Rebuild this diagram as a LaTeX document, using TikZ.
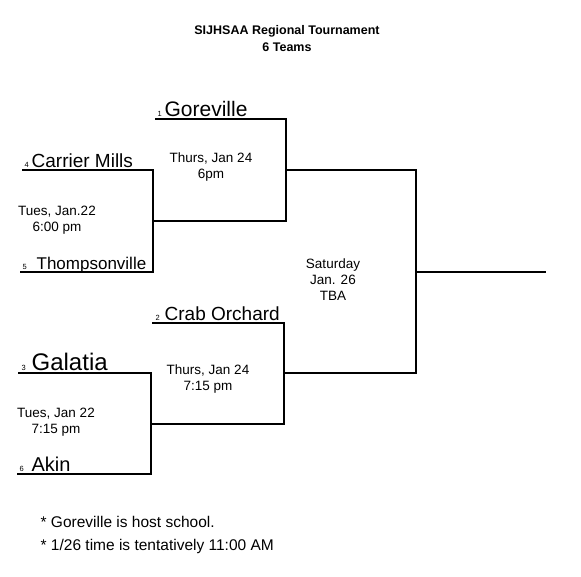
\documentclass[tikz,border=0pt]{standalone}
\usepackage{fontspec}
\setmainfont{Liberation Sans}
\begin{document}
\begin{tikzpicture}[x=1pt, y=-1pt, line width=1.3pt,
  team/.style={anchor=base west, inner sep=0pt, font=\fontsize{19}{19}\selectfont},
  seed/.style={anchor=base west, inner sep=0pt, font=\fontsize{7.5}{7.5}\selectfont},
  sched/.style={align=center, inner sep=0pt, font=\fontsize{13.5}{16}\selectfont},
  note/.style={anchor=base west, inner sep=0pt, font=\fontsize{15.5}{15.5}\selectfont}]
  \useasboundingbox (0,0) rectangle (581,576);
  % Title
  \node[align=center, font=\bfseries\fontsize{12.5}{17}\selectfont] (title) at (287,39)
    {SIJHSAA Regional Tournament\\6 Teams};
  % Bracket corners (pixel grid, y downwards)
  \coordinate (s4) at (22,170);  \coordinate (a4) at (153,170);
  \coordinate (s5) at (20,272);  \coordinate (a5) at (153,272);
  \coordinate (w45) at (153,221); \coordinate (b1) at (286,221);
  \coordinate (s1) at (155,119); \coordinate (a1) at (286,119);
  \coordinate (w1) at (286,170);  \coordinate (f1) at (416,170);
  \coordinate (s3) at (18,373);  \coordinate (a3) at (151,373);
  \coordinate (s6) at (17,474);  \coordinate (a6) at (151,474);
  \coordinate (w36) at (151,424); \coordinate (b2) at (284,424);
  \coordinate (s2) at (152,323); \coordinate (a2) at (284,323);
  \coordinate (w2) at (284,373);  \coordinate (f2) at (416,373);
  \coordinate (wf) at (416,272);  \coordinate (champ) at (546,272);
  % Round one
  \draw (s4) -- (a4) -- (a5) -- (s5);
  \draw (s3) -- (a3) -- (a6) -- (s6);
  % Semifinals
  \draw (s1) -- (a1) -- (b1) -- (w45);
  \draw (s2) -- (a2) -- (b2) -- (w36);
  % Final
  \draw (w1) -- (f1) -- (f2) -- (w2);
  \draw (wf) -- (champ);
  % Seeds and teams
  \node[seed] (n1) at (157,116) {1};
  \node[team, font=\fontsize{21}{21}\selectfont] (t1) at (164,116) {Goreville};
  \node[seed] (n4) at (24,167) {4};
  \node[team] (t4) at (31,167) {Carrier Mills};
  \node[seed] (n5) at (22,269) {5};
  \node[team, font=\fontsize{17}{17}\selectfont] (t5) at (36,269) {Thompsonville};
  \node[seed] (n2) at (155,320) {2};
  \node[team, font=\fontsize{19}{19}\selectfont] (t2) at (164,320) {Crab Orchard};
  \node[seed] (n3) at (21,370) {3};
  \node[team, font=\fontsize{24}{24}\selectfont] (t3) at (31,370) {Galatia};
  \node[seed] (n6) at (19,471) {6};
  \node[team, font=\fontsize{20}{20}\selectfont] (t6) at (31,471) {Akin};
  % Game times
  \node[sched] (g1) at (57,220) {Tues, Jan.22\\6:00 pm};
  \node[sched] (g2) at (211,167) {Thurs, Jan 24\\6pm};
  \node[sched] (g3) at (56,422) {Tues, Jan 22\\7:15 pm};
  \node[sched] (g4) at (208,379) {Thurs, Jan 24\\7:15 pm};
  \node[sched] (gf) at (333,280) {Saturday\\Jan. 26\\TBA};
  % Notes
  \node[note] (host) at (40,527) {* Goreville is host school.};
  \node[note] (tent) at (40,550) {* 1/26 time is tentatively 11:00 AM};
\end{tikzpicture}
\end{document}
